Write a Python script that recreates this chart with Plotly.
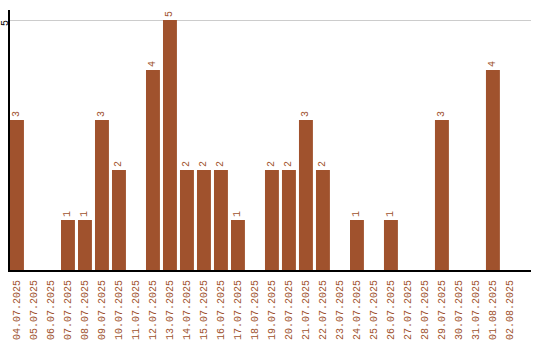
import plotly.graph_objects as go

dates = ["04.07.2025", "05.07.2025", "06.07.2025", "07.07.2025", "08.07.2025",
         "09.07.2025", "10.07.2025", "11.07.2025", "12.07.2025", "13.07.2025",
         "14.07.2025", "15.07.2025", "16.07.2025", "17.07.2025", "18.07.2025",
         "19.07.2025", "20.07.2025", "21.07.2025", "22.07.2025", "23.07.2025",
         "24.07.2025", "25.07.2025", "26.07.2025", "27.07.2025", "28.07.2025",
         "29.07.2025", "30.07.2025", "31.07.2025", "01.08.2025", "02.08.2025"]
counts = [3, 0, 0, 1, 1, 3, 2, 0, 4, 5, 2, 2, 2, 1, 0,
          2, 2, 3, 2, 0, 1, 0, 1, 0, 0, 3, 0, 0, 4, 0]
y_ticks = [5]

color = "#A0522D"
font = "Liberation Mono"

fig = go.Figure(go.Bar(
    x=list(range(len(dates))), y=counts,
    marker=dict(color=color, line=dict(width=0)),
    width=0.82,
    text=[str(c) if c else "" for c in counts],
    textposition="outside", textangle=-90,
    textfont=dict(family=font, size=10, color=color),
    cliponaxis=False,
))

for t in y_ticks:
    fig.add_annotation(
        x=0, xref="paper", y=t, yref="y", text=str(t), showarrow=False,
        textangle=-90, xanchor="center", yanchor="middle", xshift=-5, yshift=-3,
        font=dict(family=font, size=10, color="black"),
    )

fig.update_layout(
    width=540, height=340,
    margin=dict(l=10, r=9, t=10, b=70),
    paper_bgcolor="white", plot_bgcolor="white",
    showlegend=False,
    xaxis=dict(
        tickmode="array", tickvals=list(range(len(dates))), ticktext=dates,
        tickangle=-90, tickfont=dict(family=font, size=10, color=color),
        range=[-0.41, 30.24], showline=True, linecolor="black", linewidth=2,
        showgrid=False, ticks="", zeroline=False, automargin=False,
        ticklabelstandoff=4,
    ),
    yaxis=dict(
        range=[0, 5.2], tickvals=y_ticks, showticklabels=False,
        showline=True, linecolor="black", linewidth=2,
        showgrid=True, gridcolor="#cccccc", gridwidth=1,
        zeroline=False, ticks="", automargin=False,
    ),
)

fig.write_html("out.html")
